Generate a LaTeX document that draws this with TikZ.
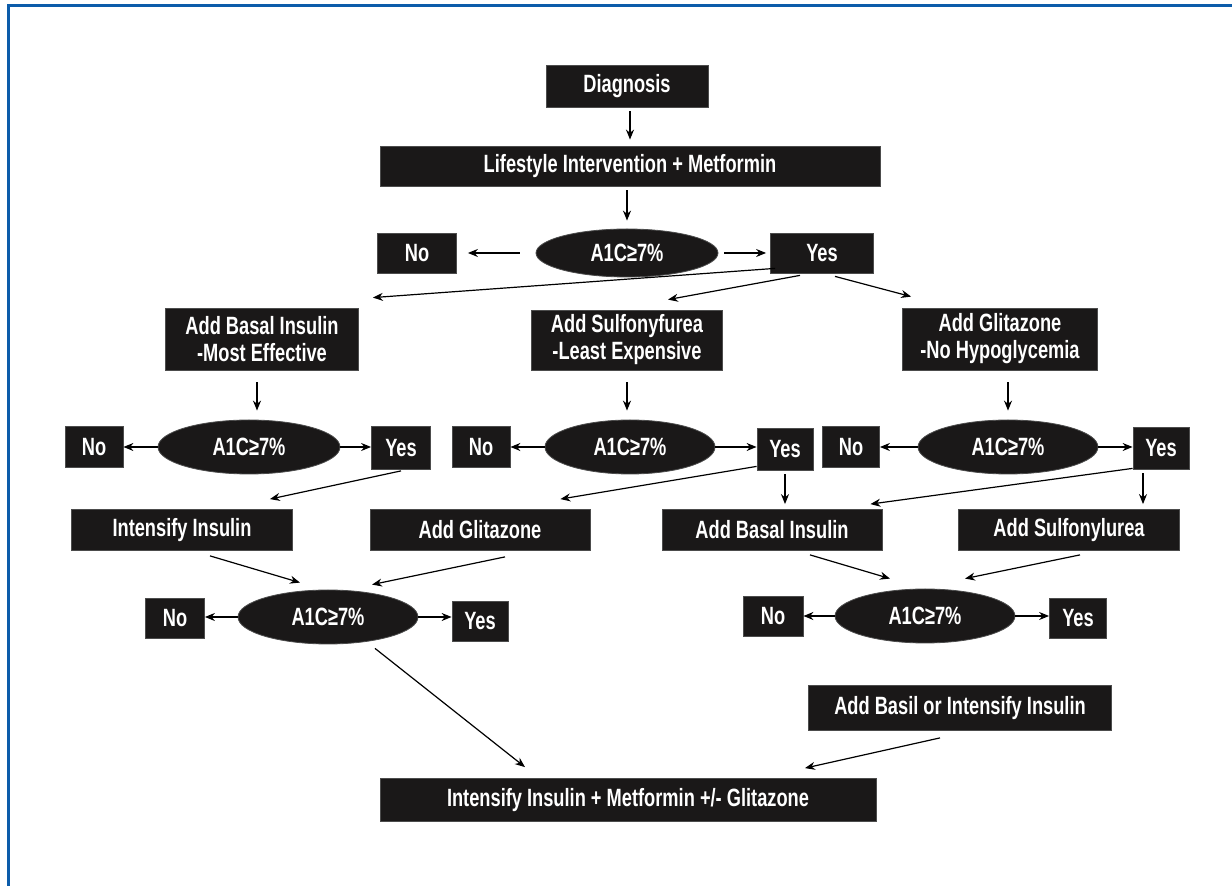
\documentclass[tikz,border=0pt]{standalone}
\usepackage{fontspec}
\setmainfont{Liberation Sans}[FakeStretch=0.73]
\usetikzlibrary{arrows.meta,shapes.geometric}

\begin{document}
\begin{tikzpicture}[x=0.5pt, y=-0.5pt,
  blk/.style={draw=black!70, fill=boxFill, text=white, inner sep=0pt, align=center,
    line width=0.4pt, font=\bfseries\fontsize{12.5}{13.5}\selectfont},
  test/.style={blk, ellipse},
  flow/.style={draw=black, line width=0.6pt, -{Stealth[length=5pt,width=4pt]}}]
% Colours of the chart
\providecommand{\frameColor}{frameBlue}
\definecolor{frameBlue}{RGB}{12,92,170}
\definecolor{boxFill}{RGB}{26,24,24}
\def\rowht{20pt}
\useasboundingbox (0,0) rectangle (1232,886);
% Frame on the left and top edge
\draw[draw=\frameColor, line width=1.6pt] (8.5,886) -- (8.5,5.5) -- (1232,5.5);

% First step
\node[blk, minimum width=81pt, minimum height=21pt] (diag) at (627,86) {Diagnosis};
\node[blk, minimum width=250pt, minimum height=\rowht] (life) at (630,166) {Lifestyle Intervention + Metformin};
\node[test, minimum width=91pt, minimum height=24pt] (ell0) at (627,253) {A1C≥7\%};
\node[blk, minimum width=39.5pt, minimum height=\rowht] (no0) at (417,253) {No};
\node[blk, minimum width=51.5pt, minimum height=\rowht] (yes0) at (822,253) {Yes};

% Second step
\node[blk, minimum width=96.5pt, minimum height=31pt] (basal) at (262,339) {Add Basal Insulin\\-Most Effective};
\node[blk, minimum width=95.5pt, minimum height=30pt] (sulf) at (627,340) {Add Sulfonyfurea\\-Least Expensive};
\node[blk, minimum width=97.5pt, minimum height=31pt] (glit) at (1000,339) {Add Glitazone\\-No Hypoglycemia};

% Tests after the second step
\node[test, minimum width=91pt, minimum height=27pt] (ell1) at (249,447) {A1C≥7\%};
\node[blk, minimum width=29pt, minimum height=20.5pt] (no1) at (94,447) {No};
\node[blk, minimum width=29.5pt, minimum height=21.5pt] (yes1) at (401,448) {Yes};
\node[test, minimum width=85pt, minimum height=27pt] (ell2) at (630,447) {A1C≥7\%};
\node[blk, minimum width=29pt, minimum height=20.5pt] (no2) at (481,447) {No};
\node[blk, minimum width=28pt, minimum height=21pt] (yes2) at (785,449) {Yes};
\node[test, minimum width=90pt, minimum height=27pt] (ell3) at (1008,447) {A1C≥7\%};
\node[blk, minimum width=28.5pt, minimum height=20.5pt] (no3) at (851,447) {No};
\node[blk, minimum width=28pt, minimum height=21pt] (yes3) at (1161,448) {Yes};

% Third step
\node[blk, minimum width=110.5pt, minimum height=20.5pt] (intens) at (182,530) {Intensify Insulin};
\node[blk, minimum width=110pt, minimum height=20.5pt] (aglit) at (480,530) {Add Glitazone};
\node[blk, minimum width=110pt, minimum height=20.5pt] (abasal) at (772,530) {Add Basal Insulin};
\node[blk, minimum width=110.5pt, minimum height=20.5pt] (asulf) at (1069,530) {Add Sulfonylurea};

% Tests after the third step
\node[test, minimum width=90pt, minimum height=27pt] (ell4) at (328,617) {A1C≥7\%};
\node[blk, minimum width=29.5pt, minimum height=\rowht] (no4) at (175,618) {No};
\node[blk, minimum width=28pt, minimum height=\rowht] (yes4) at (480,621) {Yes};
\node[test, minimum width=90pt, minimum height=27pt] (ell5) at (925,616) {A1C≥7\%};
\node[blk, minimum width=30pt, minimum height=\rowht] (no5) at (773,616) {No};
\node[blk, minimum width=28.5pt, minimum height=\rowht] (yes5) at (1078,618) {Yes};

% Last step
\node[blk, minimum width=151.5pt, minimum height=22.5pt] (addbasil) at (960,708) {Add Basil or Intensify Insulin};
\node[blk, minimum width=248pt, minimum height=21.5pt] (final) at (628,800) {Intensify Insulin + Metformin +/- Glitazone};

% Arrows of the first step
\draw[flow, shorten <=2pt, shorten >=3pt] (diag.south -| life.north) -- (life.north);
\draw[flow, shorten <=2pt, shorten >=4pt] (life.south -| ell0.north) -- (ell0.north);
\draw[flow, shorten <=8pt, shorten >=5.5pt] (ell0.west) -- (no0.east);
\draw[flow, shorten <=3pt, shorten >=2pt] (ell0.east) -- (yes0.west);
\draw[flow] ([shift={(5,-5)}]yes0.south west) -- ([shift={(14,-10)}]basal.north east);
\draw[flow] ([shift={(-22,2)}]yes0.south) -- ([shift={(41,-10)}]sulf.north);
\draw[flow] ([shift={(13,3)}]yes0.south) -- ([shift={(9,-11)}]glit.north west);

% Arrows of the second step
\draw[flow, shorten <=6pt, shorten >=4.5pt] ([xshift=-2.5pt]basal.south) -- ([xshift=-2.5pt]basal.south |- ell1.north);
\draw[flow, shorten <=6pt, shorten >=4.5pt] (sulf.south) -- (sulf.south |- ell2.north);
\draw[flow, shorten <=6pt, shorten >=4.5pt] (ell3.north |- glit.south) -- (ell3.north);
\draw[flow] (ell1.west) -- (no1.east);
\draw[flow] (ell1.east) -- (ell1.east -| yes1.west);
\draw[flow] (ell2.west) -- (no2.east);
\draw[flow] (ell2.east) -- (ell2.east -| yes2.west);
\draw[flow] (ell3.west) -- (no3.east);
\draw[flow] (ell3.east) -- (ell3.east -| yes3.west);

% Arrows of the third step
\draw[flow] ([shift={(0,1)}]yes1.south) -- ([shift={(-23,-10)}]intens.north east);
\draw[flow] ([shift={(0,-4)}]yes2.south west) -- ([shift={(-30,-10)}]aglit.north east);
\draw[flow, shorten <=2pt, shorten >=2.5pt] (yes2.south) -- (yes2.south |- abasal.north);
\draw[flow] ([shift={(0,-1)}]yes3.south west) -- ([shift={(-12,-5)}]abasal.north east);
\draw[flow, shorten <=2pt, shorten >=2.5pt] ([xshift=-9pt]yes3.south) -- ([xshift=-9pt]yes3.south |- asulf.north);
\draw[flow] ([shift={(28,5)}]intens.south) -- ([shift={(-28,-7)}]ell4.north);
\draw[flow] ([shift={(25,6)}]aglit.south) -- ([shift={(44,-5)}]ell4.north);
\draw[flow] ([shift={(38,4)}]abasal.south) -- ([shift={(-35,-10)}]ell5.north);
\draw[flow] ([shift={(11,4)}]asulf.south) -- ([shift={(40,-10)}]ell5.north);
\draw[flow] (ell4.west) -- (ell4.west -| no4.east);
\draw[flow] (ell4.east) -- (ell4.east -| yes4.west);
\draw[flow] (ell5.west) -- (ell5.west -| no5.east);
\draw[flow] (ell5.east) -- (ell5.east -| yes5.west);

% Arrows into the last step
\draw[flow] ([shift={(47,4)}]ell4.south) -- ([shift={(-103,-11)}]final.north);
\draw[flow] ([shift={(-20,7)}]addbasil.south) -- ([shift={(177,-10)}]final.north);
\end{tikzpicture}
\end{document}
